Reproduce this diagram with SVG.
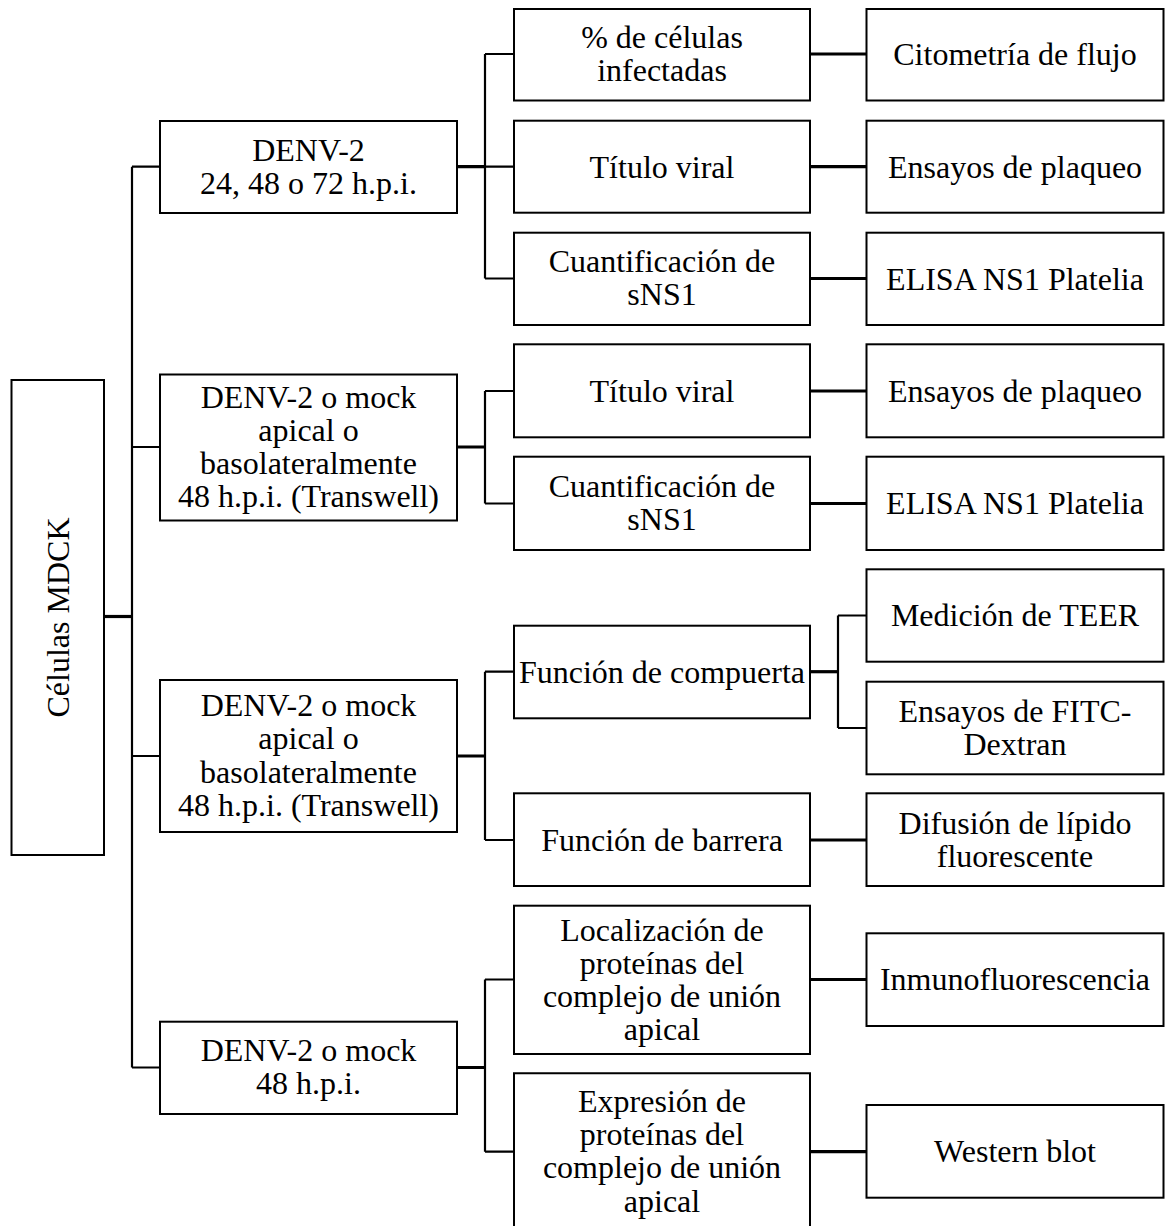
<svg xmlns="http://www.w3.org/2000/svg" width="1165" height="1226" viewBox="0 0 1165 1226">
<style>
.box{fill:#fff;stroke:#000;stroke-width:2}
.t{font-family:"Liberation Serif","Times New Roman",serif;font-size:32px;fill:#000;text-anchor:middle}
.c{fill:none;stroke:#000;stroke-width:2.2}
.k{fill:none;stroke:#000;stroke-width:3.2}
</style>
<rect width="1165" height="1226" fill="#fff"/>
<g id="connectors">
<path class="k" d="M104 616.5H132"/>
<path class="c" d="M132 166.7V1067.5M132 166.7H160M132 447H160M132 756H160M132 1067.5H160"/>
<path class="k" d="M457 166.7H485M457 447H485M457 756H485M457 1067.5H485"/>
<path class="c" d="M485 54V278.5M485 54H514M485 166.7H514M485 278.5H514"/>
<path class="c" d="M485 391V503.5M485 391H514M485 503.5H514"/>
<path class="c" d="M485 671.7V840M485 671.7H514M485 840H514"/>
<path class="c" d="M485 979.5V1151.7M485 979.5H514M485 1151.7H514"/>
<path class="k" d="M810 54H866M810 166.7H866M810 278.5H866M810 391H866M810 503.5H866M810 840H866M810 979.5H866M810 1151.7H866"/>
<path class="k" d="M810 671.7H838"/>
<path class="c" d="M838 615.5V728M838 615.5H866M838 728H866"/>
</g>
<g id="n-mdck"><rect class="box" x="11.5" y="380" width="92.5" height="475"/><text class="t" transform="translate(68.5 617.5) rotate(-90)">Células MDCK</text></g>
<g id="n-denv1"><rect class="box" x="160" y="121" width="297" height="92"/><text class="t" x="308.5" y="160.5">DENV-2</text><text class="t" x="308.5" y="193.8">24, 48 o 72 h.p.i.</text></g>
<g id="n-denv2"><rect class="box" x="160" y="374.5" width="297" height="146"/><text class="t" x="308.5" y="407.5">DENV-2 o mock</text><text class="t" x="308.5" y="440.8">apical o</text><text class="t" x="308.5" y="474.1">basolateralmente</text><text class="t" x="308.5" y="507.4">48 h.p.i. (Transwell)</text></g>
<g id="n-denv3"><rect class="box" x="160" y="680" width="297" height="152"/><text class="t" x="308.5" y="716">DENV-2 o mock</text><text class="t" x="308.5" y="749.3">apical o</text><text class="t" x="308.5" y="782.6">basolateralmente</text><text class="t" x="308.5" y="815.9">48 h.p.i. (Transwell)</text></g>
<g id="n-denv4"><rect class="box" x="160" y="1021.7" width="297" height="92.3"/><text class="t" x="308.5" y="1061">DENV-2 o mock</text><text class="t" x="308.5" y="1094.3">48 h.p.i.</text></g>
<g id="n-pct"><rect class="box" x="514" y="9" width="296" height="91.5"/><text class="t" x="662" y="48">% de células</text><text class="t" x="662" y="81.3">infectadas</text></g>
<g id="n-titulo1"><rect class="box" x="514" y="120.7" width="296" height="92"/><text class="t" x="662" y="177.5">Título viral</text></g>
<g id="n-cuant1"><rect class="box" x="514" y="232.7" width="296" height="92.3"/><text class="t" x="662" y="272">Cuantificación de</text><text class="t" x="662" y="305.3">sNS1</text></g>
<g id="n-titulo2"><rect class="box" x="514" y="344.3" width="296" height="93"/><text class="t" x="662" y="401.5">Título viral</text></g>
<g id="n-cuant2"><rect class="box" x="514" y="456.7" width="296" height="93.3"/><text class="t" x="662" y="496.5">Cuantificación de</text><text class="t" x="662" y="529.8">sNS1</text></g>
<g id="n-compuerta"><rect class="box" x="514" y="625.7" width="296" height="92.6"/><text class="t" x="662" y="682.5">Función de compuerta</text></g>
<g id="n-barrera"><rect class="box" x="514" y="793.3" width="296" height="92.7"/><text class="t" x="662" y="850.5">Función de barrera</text></g>
<g id="n-local"><rect class="box" x="514" y="905.7" width="296" height="148.3"/><text class="t" x="662" y="940.5">Localización de</text><text class="t" x="662" y="973.8">proteínas del</text><text class="t" x="662" y="1007.1">complejo de unión</text><text class="t" x="662" y="1040.4">apical</text></g>
<g id="n-expr"><path class="box" d="M514 1230V1073.3H810V1230"/><text class="t" x="662" y="1111.7">Expresión de</text><text class="t" x="662" y="1145">proteínas del</text><text class="t" x="662" y="1178.3">complejo de unión</text><text class="t" x="662" y="1211.6">apical</text></g>
<g id="n-cito"><rect class="box" x="866.5" y="9" width="297" height="91.5"/><text class="t" x="1015" y="65">Citometría de flujo</text></g>
<g id="n-plaq1"><rect class="box" x="866.5" y="120.7" width="297" height="92"/><text class="t" x="1015" y="177.5">Ensayos de plaqueo</text></g>
<g id="n-elisa1"><rect class="box" x="866.5" y="232.7" width="297" height="92.3"/><text class="t" x="1015" y="289.5">ELISA NS1 Platelia</text></g>
<g id="n-plaq2"><rect class="box" x="866.5" y="344.3" width="297" height="93"/><text class="t" x="1015" y="401.5">Ensayos de plaqueo</text></g>
<g id="n-elisa2"><rect class="box" x="866.5" y="456.7" width="297" height="93.3"/><text class="t" x="1015" y="514">ELISA NS1 Platelia</text></g>
<g id="n-teer"><rect class="box" x="866.5" y="569.3" width="297" height="92.4"/><text class="t" x="1015" y="626">Medición de TEER</text></g>
<g id="n-fitc"><rect class="box" x="866.5" y="681.7" width="297" height="92.6"/><text class="t" x="1015" y="722">Ensayos de FITC-</text><text class="t" x="1015" y="755.3">Dextran</text></g>
<g id="n-difusion"><rect class="box" x="866.5" y="793.3" width="297" height="92.7"/><text class="t" x="1015" y="833.5">Difusión de lípido</text><text class="t" x="1015" y="866.8">fluorescente</text></g>
<g id="n-inmuno"><rect class="box" x="866.5" y="933.3" width="297" height="92.7"/><text class="t" x="1015" y="990">Inmunofluorescencia</text></g>
<g id="n-western"><rect class="box" x="866.5" y="1105" width="297" height="92.7"/><text class="t" x="1015" y="1162">Western blot</text></g>
</svg>
